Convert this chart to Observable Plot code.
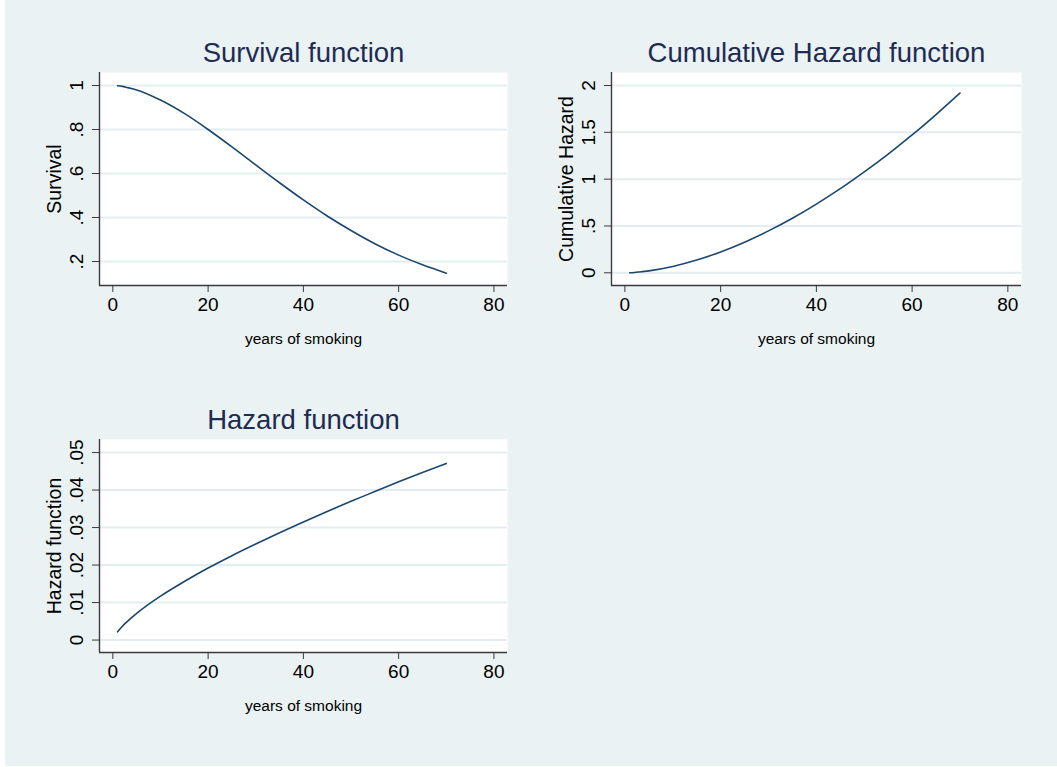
<!DOCTYPE html>
<html><head><meta charset="utf-8">
<script src="https://cdn.jsdelivr.net/npm/d3@7"></script>
<script src="https://cdn.jsdelivr.net/npm/@observablehq/plot@0.6"></script>
<style>
body{margin:0;background:#fff;}
#page{position:absolute;left:5px;top:0;width:1052px;height:766px;background:#EAF2F3;overflow:hidden;font-family:"Liberation Sans",Arial,sans-serif;}
.panel{position:absolute;}
</style></head><body><div id="page"></div>
<script>
const years = [1, 2, 3, 5, 10, 15, 20, 25, 30, 35, 40, 45, 50, 55, 60, 65, 70];
const survival = [0.999, 0.996, 0.991, 0.980, 0.934, 0.873, 0.800, 0.721, 0.639, 0.558, 0.480, 0.407, 0.341, 0.281, 0.229, 0.185, 0.147];
const cumHazard = [0.001, 0.004, 0.009, 0.021, 0.068, 0.136, 0.223, 0.327, 0.448, 0.583, 0.734, 0.898, 1.077, 1.268, 1.472, 1.690, 1.919];
const hazard = [0.0022, 0.0037, 0.0049, 0.0071, 0.0117, 0.0156, 0.0192, 0.0225, 0.0256, 0.0286, 0.0315, 0.0343, 0.0370, 0.0396, 0.0422, 0.0447, 0.0471];

const xTicks = [0, 20, 40, 60, 80];
const xTickLabels = ["0", "20", "40", "60", "80"];
const survTicks = [0.2, 0.4, 0.6, 0.8, 1];
const survTickLabels = [".2", ".4", ".6", ".8", "1"];
const cumTicks = [0, 0.5, 1, 1.5, 2];
const cumTickLabels = ["0", ".5", "1", "1.5", "2"];
const hazTicks = [0, 0.01, 0.02, 0.03, 0.04, 0.05];
const hazTickLabels = ["0", ".01", ".02", ".03", ".04", ".05"];

const titles = ["Survival function", "Cumulative Hazard function", "Hazard function"];
const yLabels = ["Survival", "Cumulative Hazard", "Hazard function"];
const xLabel = "years of smoking";

const xDomain = [-2.8, 82.85];
const FONT = '"Liberation Sans", Arial, Helvetica, sans-serif';

function panel({title, ylabel, values, yDomain, yTicks, yTickLabels, left, top, plotW}) {
  const width = 520;
  const data = years.map((t, i) => ({t, v: values[i]}));
  const ticks = yTicks.map((v, i) => ({v, label: yTickLabels[i]}));
  const svg = Plot.plot({
    width, height: 360,
    marginLeft: 99, marginRight: width - 99 - plotW, marginTop: 72, marginBottom: 75,
    x: {domain: xDomain},
    y: {domain: yDomain},
    style: {background: "transparent", fontFamily: FONT, overflow: "visible"},
    marks: [
      Plot.frame({fill: "white", stroke: "none"}),
      Plot.ruleY(yTicks, {stroke: "#e3edef", strokeWidth: 2}),
      Plot.ruleX([xDomain[0]], {stroke: "#3a3a3a", strokeWidth: 1.4}),
      Plot.ruleY([yDomain[0]], {stroke: "#3a3a3a", strokeWidth: 1.4}),
      Plot.axisX({ticks: xTicks, tickSize: 7, tickPadding: 5, fontSize: 19, label: null,
        stroke: "#3a3a3a", fill: "#000", tickFormat: (d, i) => xTickLabels[xTicks.indexOf(d)]}),
      Plot.axisY({ticks: yTicks, tickSize: 7, tickFormat: () => "", label: null, stroke: "#3a3a3a"}),
      Plot.text(ticks, {y: "v", text: "label", frameAnchor: "left", dx: -16.5, rotate: -90,
        textAnchor: "middle", lineAnchor: "bottom", fontSize: 19, fill: "#000"}),
      Plot.text([ylabel], {text: d => d, frameAnchor: "left", dx: -38.5, rotate: -90,
        textAnchor: "middle", lineAnchor: "bottom", fontSize: 19.5, fill: "#000"}),
      Plot.text([xLabel], {text: d => d, frameAnchor: "bottom", dy: 58, lineAnchor: "bottom",
        fontSize: 15.5, fill: "#000"}),
      Plot.text([title], {text: d => d, frameAnchor: "top", dy: -11, lineAnchor: "bottom",
        fontSize: 27.5, fill: "#1e2c52"}),
      Plot.line(data, {x: "t", y: "v", stroke: "#1a476f", strokeWidth: 1.6, curve: "monotone-x"})
    ]
  });
  svg.classList.add("panel");
  svg.style.left = (left - 5) + "px";
  svg.style.top = top + "px";
  document.getElementById("page").appendChild(svg);
}

panel({title: titles[0], ylabel: yLabels[0], values: survival, yDomain: [0.0909, 1.0591],
  yTicks: survTicks, yTickLabels: survTickLabels, left: 0, top: 0, plotW: 408});
panel({title: titles[1], ylabel: yLabels[1], values: cumHazard, yDomain: [-0.1356, 2.1388],
  yTicks: cumTicks, yTickLabels: cumTickLabels, left: 512, top: 0, plotW: 410});
panel({title: titles[2], ylabel: yLabels[2], values: hazard, yDomain: [-0.00332, 0.05348],
  yTicks: hazTicks, yTickLabels: hazTickLabels, left: 0, top: 367, plotW: 408});
</script></body></html>
